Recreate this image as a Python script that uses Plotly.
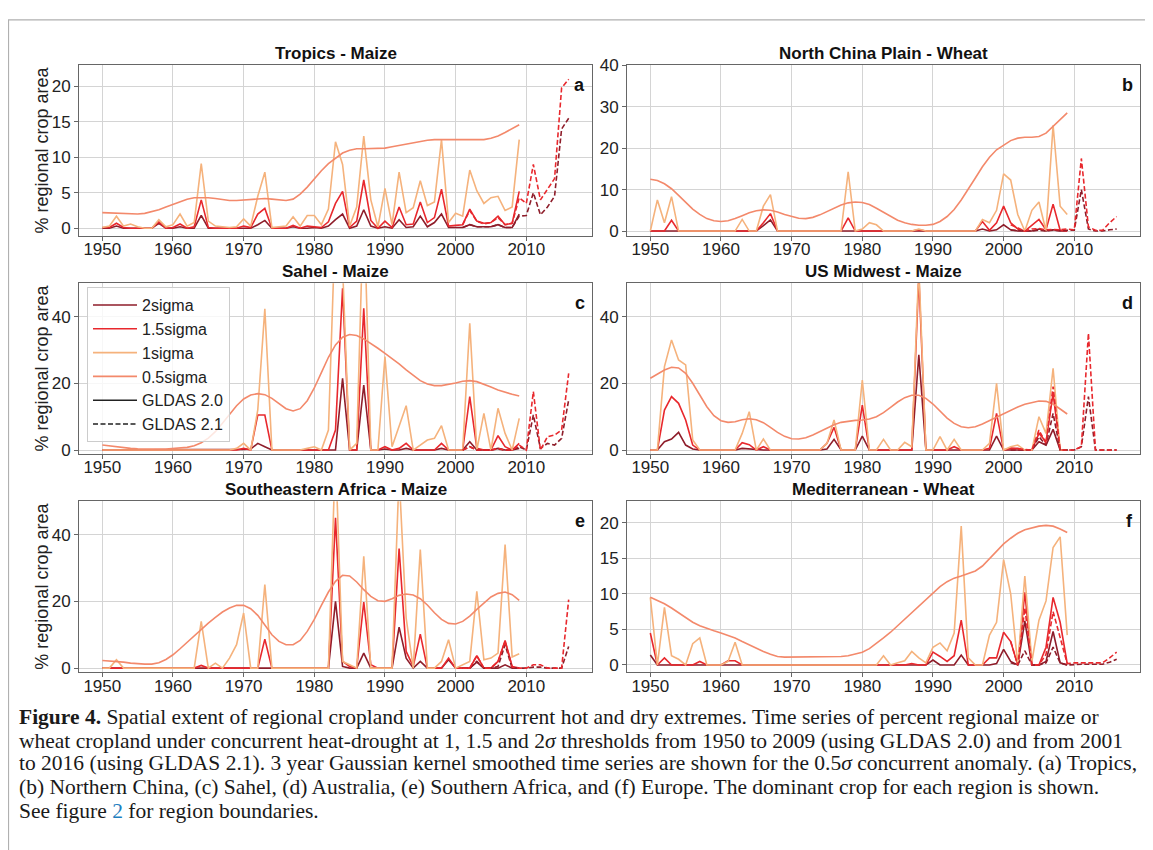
import plotly.graph_objects as go

# page body has an 8px margin: figure is drawn 8px in from the page's top-left corner
OFF = 8
W, H = 1153 - OFF, 850 - OFF

years = list(range(1950, 2010))
years21 = list(range(2001, 2017))

titles = ["Tropics - Maize", "North China Plain - Wheat", "Sahel - Maize",
          "US Midwest - Maize", "Southeastern Africa - Maize", "Mediterranean - Wheat"]
letters = ["a", "b", "c", "d", "e", "f"]
legend_names = ["2sigma", "1.5sigma", "1sigma", "0.5sigma", "GLDAS 2.0", "GLDAS 2.1"]
xtick_vals = [1950, 1960, 1970, 1980, 1990, 2000, 2010]

# ---------------- Panel a: Tropics - Maize ----------------
a_2s = [0.0, 0.0, 0.3, 0.0, 0.0, 0.0, 0.0, 0.0, 0.7, 0.0,
        0.0, 0.2, 0.0, 0.0, 1.8, 0.0, 0.0, 0.0, 0.0, 0.0,
        0.1, 0.0, 0.5, 1.1, 0.0, 0.0, 0.0, 0.2, 0.0, 0.0,
        0.1, 0.0, 0.3, 1.2, 2.0, 0.0, 0.3, 2.6, 0.3, 0.0,
        0.2, 0.0, 1.2, 0.1, 0.2, 1.7, 0.2, 0.8, 2.0, 0.1,
        0.1, 0.1, 0.5, 0.2, 0.2, 0.2, 0.5, 0.1, 0.1, 2.0]
a_15s = [0.1, 0.1, 0.7, 0.1, 0.0, 0.0, 0.0, 0.0, 0.9, 0.0,
         0.1, 0.6, 0.0, 0.2, 4.0, 0.1, 0.0, 0.0, 0.0, 0.0,
         0.3, 0.1, 2.0, 2.8, 0.0, 0.0, 0.0, 0.4, 0.0, 0.3,
         0.2, 0.1, 0.9, 3.5, 5.2, 0.1, 1.0, 6.8, 1.1, 0.0,
         1.0, 0.1, 3.0, 0.5, 0.6, 3.7, 0.8, 1.5, 5.5, 0.3,
         0.4, 0.5, 2.7, 1.0, 0.7, 0.8, 1.7, 0.5, 0.7, 5.2]
a_1s = [0.1, 0.3, 1.7, 0.3, 0.6, 0.2, 0.0, 0.0, 1.2, 0.2,
        0.5, 2.0, 0.3, 0.8, 9.1, 1.0, 0.3, 0.2, 0.1, 0.2,
        1.3, 0.3, 4.5, 7.9, 0.1, 0.2, 0.3, 1.6, 0.3, 1.8,
        1.8, 0.5, 2.7, 12.2, 9.0, 0.3, 3.0, 13.0, 4.0, 0.2,
        5.6, 0.5, 7.9, 2.2, 2.9, 6.7, 3.2, 3.7, 12.5, 0.8,
        2.1, 1.7, 8.2, 5.3, 3.5, 4.3, 4.5, 2.5, 3.0, 12.5]
a_05s = [2.2, 2.15, 2.1, 2.05, 2.0, 2.0, 2.1, 2.3, 2.6, 3.0,
         3.4, 3.8, 4.1, 4.3, 4.35, 4.3, 4.2, 4.0, 3.9, 3.9,
         4.0, 4.1, 4.2, 4.2, 4.1, 3.95, 3.9, 4.1, 4.8, 5.8,
         7.0, 8.1, 9.1, 9.9, 10.6, 11.0, 11.2, 11.2, 11.2, 11.3,
         11.3, 11.5, 11.7, 11.9, 12.1, 12.3, 12.4, 12.5, 12.5, 12.5,
         12.4, 12.4, 12.4, 12.4, 12.5, 12.7, 13.0, 13.5, 14.0, 14.6]
a_2s_21 = [0.1, 0.5, 0.2, 0.2, 0.2, 0.5, 0.1, 0.1, 1.7, 1.8, 5.0, 1.9, 3.0, 4.5, 14.0, 15.5]
a_15s_21 = [0.5, 2.5, 1.0, 0.6, 0.8, 1.5, 0.5, 0.7, 4.3, 3.5, 9.0, 4.0, 5.5, 7.0, 19.8, 21.0]

# ---------------- Panel b: North China Plain - Wheat ----------------
b_2s = [0, 0, 0, 0, 0, 0, 0, 0, 0, 0,
        0, 0, 0, 0, 0, 0, 1.3, 2.7, 0, 0,
        0, 0, 0, 0, 0, 0, 0, 0, 0, 0,
        0, 0, 0, 0, 0, 0, 0, 0, 0, 0,
        0, 0, 0, 0, 0, 0, 0, 0.5, 0, 0.3,
        1.5, 0.3, 0, 0, 0, 0.5, 0, 0.3, 0, 0]
b_15s = [0, 0, 0, 2.6, 0, 0, 0, 0, 0, 0,
         0, 0, 0, 0, 0, 0, 2.0, 4.2, 0, 0,
         0, 0, 0, 0, 0, 0, 0, 0, 3.2, 0,
         0, 0, 0, 0, 0, 0, 0, 0, 0.3, 0,
         0, 0, 0, 0, 0, 0, 0, 2.3, 0.2, 2.0,
         6.0, 2.0, 0.5, 0, 1.5, 2.8, 0.3, 6.5, 0.2, 0]
b_1s = [0, 7.5, 2.0, 8.3, 0, 0, 0, 0, 0, 0,
        0, 0, 0, 2.8, 0, 0, 6.0, 8.8, 0, 0,
        0, 0, 0, 0, 0, 0, 0, 0, 14.3, 0,
        0.5, 2.0, 1.5, 0, 0, 0, 0, 0, 0.5, 0,
        0, 0, 0, 0, 0, 0, 0, 2.8, 2.0, 5.0,
        13.8, 12.3, 4.0, 0, 5.0, 7.0, 0, 25.5, 6.0, 4.0]
b_05s = [12.5, 12.2, 11.4, 10.2, 8.6, 6.9, 5.3, 4.0, 3.0, 2.5,
         2.3, 2.5, 3.0, 3.7, 4.4, 4.9, 5.1, 5.0, 4.6, 4.0,
         3.5, 3.1, 3.0, 3.3, 3.9, 4.7, 5.6, 6.3, 6.8, 7.0,
         6.9, 6.4, 5.5, 4.5, 3.5, 2.6, 2.0, 1.6, 1.4, 1.4,
         1.6, 2.3, 3.5, 5.2, 7.5, 10.0, 12.8, 15.5, 17.8, 19.6,
         20.8, 21.8, 22.4, 22.6, 22.6, 22.8, 23.6, 25.2, 27.0, 28.5]
b_2s_21 = [0.2, 0.1, 0, 0, 0.2, 0, 0.2, 0.1, 0.2, 0.2, 10.0, 0.5, 0, 0, 0.3, 0.5]
b_15s_21 = [1.5, 0.8, 0, 0.5, 0.6, 0.3, 0.4, 0.3, 0.5, 0.3, 17.5, 1.0, 0.2, 0.2, 2.0, 3.5]

# ---------------- Panel c: Sahel - Maize ----------------
c_2s = [0, 0, 0, 0, 0, 0, 0, 0, 0, 0,
        0, 0, 0, 0, 0, 0, 0, 0, 0, 0,
        0.2, 0.3, 2.0, 1.0, 0, 0, 0, 0, 0, 0,
        0, 0, 0, 0, 21.5, 0, 0, 19.5, 0, 0,
        0.3, 0, 0, 0.5, 0, 0, 0, 0, 0.5, 0,
        0, 0, 2.5, 0, 0, 0, 0.5, 0, 0, 0.5]
c_15s = [0, 0, 0, 0, 0, 0, 0, 0, 0, 0,
         0, 0, 0, 0, 0, 0, 0, 0, 0, 0,
         0.5, 0, 10.5, 10.5, 0, 0, 0, 0, 0, 0,
         0, 0, 0, 6.0, 48.5, 0, 0, 42.5, 0, 0,
         1.0, 0, 0.5, 2.0, 0, 0, 0, 0, 2.0, 0,
         0, 0, 16.0, 0.5, 0, 0, 4.3, 1.0, 0, 2.0]
c_1s = [0, 0, 0, 0, 0, 0, 0, 0, 0, 0,
        0, 0, 0, 0, 0, 0, 0, 0, 0, 0.5,
        2.0, 0, 12.0, 42.3, 0, 0, 0, 0, 0, 0.5,
        1.0, 0, 6.0, 70.0, 55.0, 0, 2.0, 75.0, 0, 0,
        28.0, 1.0, 7.0, 13.3, 0, 1.5, 3.0, 3.5, 7.3, 0,
        0, 0, 38.0, 0, 11.0, 0, 12.5, 5.0, 0, 9.5]
c_05s = [1.5, 1.2, 0.9, 0.7, 0.5, 0.4, 0.3, 0.3, 0.3, 0.3,
         0.4, 0.5, 0.8, 1.3, 2.2, 3.6, 5.5, 8.0, 10.8, 13.3,
         15.3, 16.5, 16.9, 16.6, 15.5, 13.9, 12.4, 11.7, 12.4, 14.8,
         18.6, 23.2, 27.8, 31.5, 33.8, 34.6, 34.3, 33.3, 32.0, 30.5,
         29.0, 27.5, 25.8, 24.0, 22.3, 20.8, 19.8, 19.3, 19.3, 19.6,
         20.1, 20.6, 20.8, 20.5, 19.8, 18.9, 18.0, 17.3, 16.7, 16.2]
c_2s_21 = [0, 1.0, 0, 0, 0, 0.3, 0, 0, 1.0, 0, 10.5, 0.5, 2.0, 1.5, 3.5, 15.0]
c_15s_21 = [0, 1.0, 0, 0, 0, 0.5, 0, 0, 1.5, 0, 17.5, 0, 4.0, 4.5, 6.0, 23.0]

# ---------------- Panel d: US Midwest - Maize ----------------
d_2s = [0, 0, 2.5, 3.3, 5.3, 1.5, 0.3, 0, 0, 0,
        0, 0, 0, 0.5, 0.3, 0, 0, 0, 0, 0,
        0, 0, 0, 0, 0, 0.3, 3.2, 0, 0, 0,
        4.2, 0, 0, 0, 0, 0, 0, 0, 28.5, 0,
        0, 0, 0, 0, 0, 0, 0, 0, 0, 4.2,
        0, 0, 0, 0, 0, 2.5, 1.5, 6.2, 0, 0]
d_15s = [0, 0, 12.0, 16.0, 14.0, 9.0, 1.5, 0, 0, 0,
         0, 0, 0, 2.2, 1.6, 0, 1.0, 0, 0, 0,
         0, 0, 0, 0, 0, 2.0, 6.8, 0, 0, 0,
         13.5, 0, 0, 0, 0, 0, 0, 0, 52.0, 0,
         0, 0, 0, 1.0, 0, 0, 0, 0, 0.5, 11.0,
         0, 0.5, 0.5, 0, 0, 5.0, 2.5, 17.0, 0, 0]
d_1s = [0, 0, 25.0, 33.0, 27.0, 25.5, 3.0, 0, 0, 0,
        0, 0, 0, 5.0, 11.5, 0, 3.3, 0, 0, 0,
        0, 0, 0, 0, 0, 2.0, 9.0, 0, 0, 0,
        21.0, 0, 0, 3.2, 0, 0, 2.3, 1.0, 55.0, 0,
        0, 4.0, 0, 3.2, 0, 0, 0, 0, 2.0, 20.0,
        0, 1.0, 1.5, 0, 0, 10.0, 5.0, 24.5, 0, 0]
d_05s = [21.5, 22.7, 24.0, 24.8, 24.6, 23.0, 20.0, 16.5, 13.0, 10.3,
         8.8, 8.3, 8.5, 9.1, 9.4, 9.1, 8.2, 6.8, 5.3, 4.1,
         3.4, 3.3, 3.7, 4.5, 5.5, 6.6, 7.6, 8.3, 8.7, 8.9,
         9.0, 9.3, 10.0, 11.2, 12.8, 14.4, 15.7, 16.4, 16.4, 15.5,
         13.8, 11.7, 9.6, 8.0, 7.0, 6.7, 7.0, 7.8, 8.8, 10.0,
         11.0, 12.0, 12.9, 13.7, 14.3, 14.7, 14.6, 13.8, 12.3, 10.8]
d_2s_21 = [0, 0, 0, 0, 4.0, 1.5, 11.0, 0, 0, 0, 1.0, 16.0, 0, 0, 0, 0]
d_15s_21 = [0.5, 0.3, 0, 0, 6.0, 2.0, 19.0, 0, 0, 0, 1.0, 35.0, 0, 0, 0, 0]

# ---------------- Panel e: Southeastern Africa - Maize ----------------
e_2s = [0, 0, 0, 0, 0, 0, 0, 0, 0, 0,
        0, 0, 0, 0, 0, 0, 0, 0, 0, 0,
        0, 0, 0, 0, 0, 0, 0, 0, 0, 0,
        0, 0, 0, 20.0, 0.5, 0, 0, 4.5, 0, 0,
        0, 0, 12.3, 3.0, 0, 2.0, 0, 0, 0, 2.5,
        0, 0, 0, 1.8, 0, 0, 0, 1.0, 0, 0]
e_15s = [0, 0, 0, 0, 0, 0, 0, 0, 0, 0,
         0, 0, 0, 0, 0.8, 0, 0, 0, 0, 0,
         0, 0, 0, 8.7, 0, 0, 0, 0, 0, 0,
         0, 0, 0, 45.0, 2.0, 0.5, 0, 19.8, 1.0, 0,
         0, 0, 35.8, 5.0, 0.5, 10.2, 0, 0, 0, 3.0,
         0, 0, 0, 3.7, 0, 0, 2.0, 8.3, 0.5, 0]
e_1s = [0, 0, 2.5, 0, 0, 0, 0, 0, 0, 0,
        0, 0, 0, 0, 14.0, 0, 1.5, 0, 3.0, 7.0,
        16.5, 0, 0, 25.0, 0, 0, 0, 0, 0, 0,
        0, 0, 0, 65.0, 2.0, 1.0, 0, 33.5, 0, 0,
        0, 0, 58.0, 15.0, 0, 35.5, 0, 0, 2.0, 8.5,
        0, 1.0, 2.0, 23.0, 2.5, 3.0, 4.5, 37.0, 3.3, 4.3]
e_05s = [2.3, 2.2, 2.0, 1.8, 1.5, 1.3, 1.2, 1.2, 1.6, 2.6,
         4.0, 5.8, 7.8, 9.8, 11.7, 13.5, 15.2, 16.8, 18.0, 18.8,
         18.8, 17.8, 15.8, 12.8, 10.0, 8.0, 7.0, 7.0, 8.3, 11.0,
         14.6, 18.8, 22.8, 26.0, 27.8, 27.6, 25.8, 23.5, 21.5, 20.2,
         20.0, 20.8, 21.8, 22.2, 21.9, 20.8, 18.9, 16.6, 14.6, 13.4,
         13.2, 14.0, 15.6, 17.6, 19.6, 21.3, 22.4, 22.8, 22.0, 20.3]
e_2s_21 = [0, 0, 2.0, 0, 0, 0.5, 7.0, 0, 0, 0, 0.3, 0.3, 0, 0, 0, 6.5]
e_15s_21 = [0, 0, 3.7, 0, 0, 2.0, 8.0, 0.3, 0, 0, 1.0, 1.0, 0, 0, 0, 20.5]

# ---------------- Panel f: Mediterranean - Wheat ----------------
f_2s = [1.4, 0, 0, 0, 0, 0, 0, 0, 0, 0,
        0, 0, 0, 0, 0, 0, 0, 0, 0, 0,
        0, 0, 0, 0, 0, 0, 0, 0, 0, 0,
        0, 0, 0, 0, 0, 0, 0, 0, 0, 0,
        0.7, 0, 0, 0, 1.4, 0, 0, 0, 0, 0.2,
        2.2, 0.5, 0, 6.2, 0, 0, 0.5, 4.7, 0.3, 0]
f_15s = [4.5, 0, 1.0, 0, 0, 0, 0, 0.5, 0, 0,
         0, 0.6, 0.6, 0, 0, 0, 0, 0, 0, 0,
         0.1, 0, 0, 0, 0, 0.1, 0, 0, 0, 0,
         0, 0, 0, 0, 0, 0, 0, 0.2, 0, 0,
         1.8, 1.2, 0.5, 1.3, 6.3, 0, 0, 0, 1.0, 1.0,
         4.6, 3.3, 0, 10.2, 0, 0, 2.5, 9.5, 6.0, 0.2]
f_1s = [9.5, 0, 8.1, 1.3, 0.8, 0, 3.0, 3.8, 0, 0,
        0, 0.5, 3.2, 0, 0, 0, 0, 0, 0, 0,
        0, 0, 0, 0, 0, 0, 0, 0, 0, 0,
        0, 0, 0, 1.3, 0, 0.3, 0.6, 1.9, 1.0, 0.3,
        2.5, 3.1, 2.0, 4.5, 19.5, 1.0, 0, 0, 4.2, 6.0,
        14.8, 10.0, 0, 12.5, 0.5, 6.3, 9.0, 16.5, 18.0, 4.2]
f_05s = [9.5, 9.1, 8.6, 8.0, 7.3, 6.6, 6.0, 5.5, 5.1, 4.8,
         4.5, 4.2, 3.8, 3.3, 2.8, 2.3, 1.9, 1.5, 1.2, 1.1,
         1.1, 1.1, 1.2, 1.2, 1.2, 1.2, 1.2, 1.2, 1.3, 1.5,
         1.8, 2.3, 3.0, 3.8, 4.6, 5.5, 6.4, 7.3, 8.3, 9.2,
         10.1, 11.0, 11.7, 12.2, 12.5, 12.8, 13.2, 13.9, 14.9, 16.0,
         17.0, 17.8, 18.5, 19.0, 19.3, 19.5, 19.6, 19.5, 19.1, 18.6]
f_2s_21 = [0.3, 0, 2.0, 0, 0, 0.3, 2.5, 0.3, 0, 0.1, 0.1, 0.1, 0.1, 0.1, 0.4, 0.8]
f_15s_21 = [3.3, 0, 8.0, 0, 0, 1.5, 7.5, 4.0, 0.2, 0.3, 0.3, 0.2, 0.2, 0.3, 1.0, 1.8]

panels = [
    (a_2s, a_15s, a_1s, a_05s, a_2s_21, a_15s_21),
    (b_2s, b_15s, b_1s, b_05s, b_2s_21, b_15s_21),
    (c_2s, c_15s, c_1s, c_05s, c_2s_21, c_15s_21),
    (d_2s, d_15s, d_1s, d_05s, d_2s_21, d_15s_21),
    (e_2s, e_15s, e_1s, e_05s, e_2s_21, e_15s_21),
    (f_2s, f_15s, f_1s, f_05s, f_2s_21, f_15s_21),
]
y_ranges = [[-1.1, 23.0], [-1.2, 40], [-1.2, 50], [-1.2, 50], [-1.2, 50], [-1.0, 23.0]]
y_dticks = [5, 10, 20, 20, 20, 5]

# styles
C2 = "#8e1d2a"
C15 = "#e8282d"
C1 = "#f5b27c"
C05 = "#f3896b"
LW = 1.6
DASH = "5px,2.5px"

# panel frames in page pixels (left, right) / (top, bottom)
cols_px = [(79, 592), (627, 1140)]
rows_px = [(57, 231), (279, 453), (501, 675)]


def px_x(x):
    return (x - OFF) / W


def px_y(y):
    return 1 - (y - OFF) / H


fig = go.Figure()
layout = dict(
    width=W, height=H, margin=dict(l=0, r=0, t=0, b=0),
    paper_bgcolor="white", plot_bgcolor="white",
    font=dict(family="Liberation Sans, Arial, sans-serif", color="#222222", size=17),
    annotations=[], shapes=[],
)

for i, (s2, s15, s1, s05, s2_21, s15_21) in enumerate(panels):
    r, c = divmod(i, 2)
    n = i + 1
    xa = "x" if n == 1 else f"x{n}"
    ya = "y" if n == 1 else f"y{n}"
    l, rt = cols_px[c]
    t, b = rows_px[r]
    layout[f"xaxis{'' if n == 1 else n}"] = dict(
        domain=[px_x(l), px_x(rt)], anchor=ya, range=[1946.7, 2019.3],
        tickvals=xtick_vals, showgrid=True, gridcolor="#d4d4d4", gridwidth=1,
        showline=True, mirror=True, linecolor="#666666", linewidth=1,
        ticks="outside", ticklen=4, tickcolor="#666666", zeroline=False,
        ticklabelstandoff=-6,
        tickfont=dict(size=17, color="#222222"),
    )
    layout[f"yaxis{'' if n == 1 else n}"] = dict(
        domain=[px_y(b), px_y(t)], anchor=xa, range=y_ranges[i],
        dtick=y_dticks[i], tick0=0, showgrid=True, gridcolor="#d4d4d4", gridwidth=1,
        showline=True, mirror=True, linecolor="#666666", linewidth=1,
        ticks="outside", ticklen=4, tickcolor="#666666", zeroline=False,
        tickfont=dict(size=17, color="#222222"),
    )
    common = dict(xaxis=xa, yaxis=ya, mode="lines", showlegend=False, hoverinfo="skip")
    fig.add_trace(go.Scatter(x=years, y=s2, line=dict(color=C2, width=LW), **common))
    fig.add_trace(go.Scatter(x=years, y=s15, line=dict(color=C15, width=LW), **common))
    fig.add_trace(go.Scatter(x=years, y=s1, line=dict(color=C1, width=LW), **common))
    fig.add_trace(go.Scatter(x=years, y=s05, line=dict(color=C05, width=LW), **common))
    fig.add_trace(go.Scatter(x=years21, y=s2_21, line=dict(color=C2, width=LW, dash=DASH), **common))
    fig.add_trace(go.Scatter(x=years21, y=s15_21, line=dict(color=C15, width=LW, dash=DASH), **common))

    # subplot title
    layout["annotations"].append(dict(
        text=f"<b>{titles[i]}</b>", xref="paper", yref="paper",
        x=px_x((l + rt) / 2), y=px_y(t), xanchor="center", yanchor="bottom",
        yshift=0, showarrow=False, font=dict(size=17, color="#111111")))
    # panel letter
    layout["annotations"].append(dict(
        text=f"<b>{letters[i]}</b>", xref=f"{xa} domain", yref=f"{ya} domain",
        x=1, y=1, xanchor="right", yanchor="top", xshift=-5, yshift=-8,
        showarrow=False, font=dict(size=18, color="#111111")))
    # y-axis label on left column
    if c == 0:
        layout["annotations"].append(dict(
            text="% regional crop area", xref="paper", yref="paper",
            x=px_x(42), y=px_y((t + b) / 2), xanchor="center", yanchor="middle",
            textangle=-90, showarrow=False, font=dict(size=18, color="#222222")))

# legend entries
leg_styles = [(C2, "solid"), (C15, "solid"), (C1, "solid"), (C05, "solid"),
              ("#222222", "solid"), ("#222222", DASH)]
for name, (col, dash) in zip(legend_names, leg_styles):
    fig.add_trace(go.Scatter(x=[None], y=[None], mode="lines", name=name,
                             line=dict(color=col, width=LW, dash=dash),
                             xaxis="x3", yaxis="y3", showlegend=True))

layout["legend"] = dict(
    x=px_x(87), y=px_y(283), xanchor="left", yanchor="top",
    bgcolor="rgba(255,255,255,0.8)", bordercolor="#cccccc", borderwidth=1,
    font=dict(size=16, color="#222222"), tracegroupgap=0, itemwidth=44,
)

# outer frame of the figure box
layout["shapes"].append(dict(type="rect", xref="paper", yref="paper",
                             x0=px_x(8.5), x1=1.02, y0=-0.02, y1=px_y(11),
                             line=dict(color="#b0b0b0", width=1.2), fillcolor="rgba(0,0,0,0)"))

# caption
cap_lines = [
    "<b>Figure 4.</b> Spatial extent of regional cropland under concurrent hot and dry extremes. Time series of percent regional maize or",
    "wheat cropland under concurrent heat-drought at 1, 1.5 and 2<i>σ</i> thresholds from 1950 to 2009 (using GLDAS 2.0) and from 2001",
    "to 2016 (using GLDAS 2.1). 3 year Gaussian kernel smoothed time series are shown for the 0.5<i>σ</i> concurrent anomaly. (a) Tropics,",
    "(b) Northern China, (c) Sahel, (d) Australia, (e) Southern Africa, and (f) Europe. The dominant crop for each region is shown.",
    "See figure <span style='color:#1f7fc0'>2</span> for region boundaries.",
]
cap_y = [721, 745, 768, 792, 816]
for txt, yc in zip(cap_lines, cap_y):
    layout["annotations"].append(dict(
        text=txt, xref="paper", yref="paper", x=px_x(17), y=px_y(yc),
        xanchor="left", yanchor="middle", showarrow=False,
        font=dict(family="Liberation Serif, Times New Roman, serif", size=21.5, color="#1a1a1a")))

fig.update_layout(**layout)
fig.write_html("out.html")
